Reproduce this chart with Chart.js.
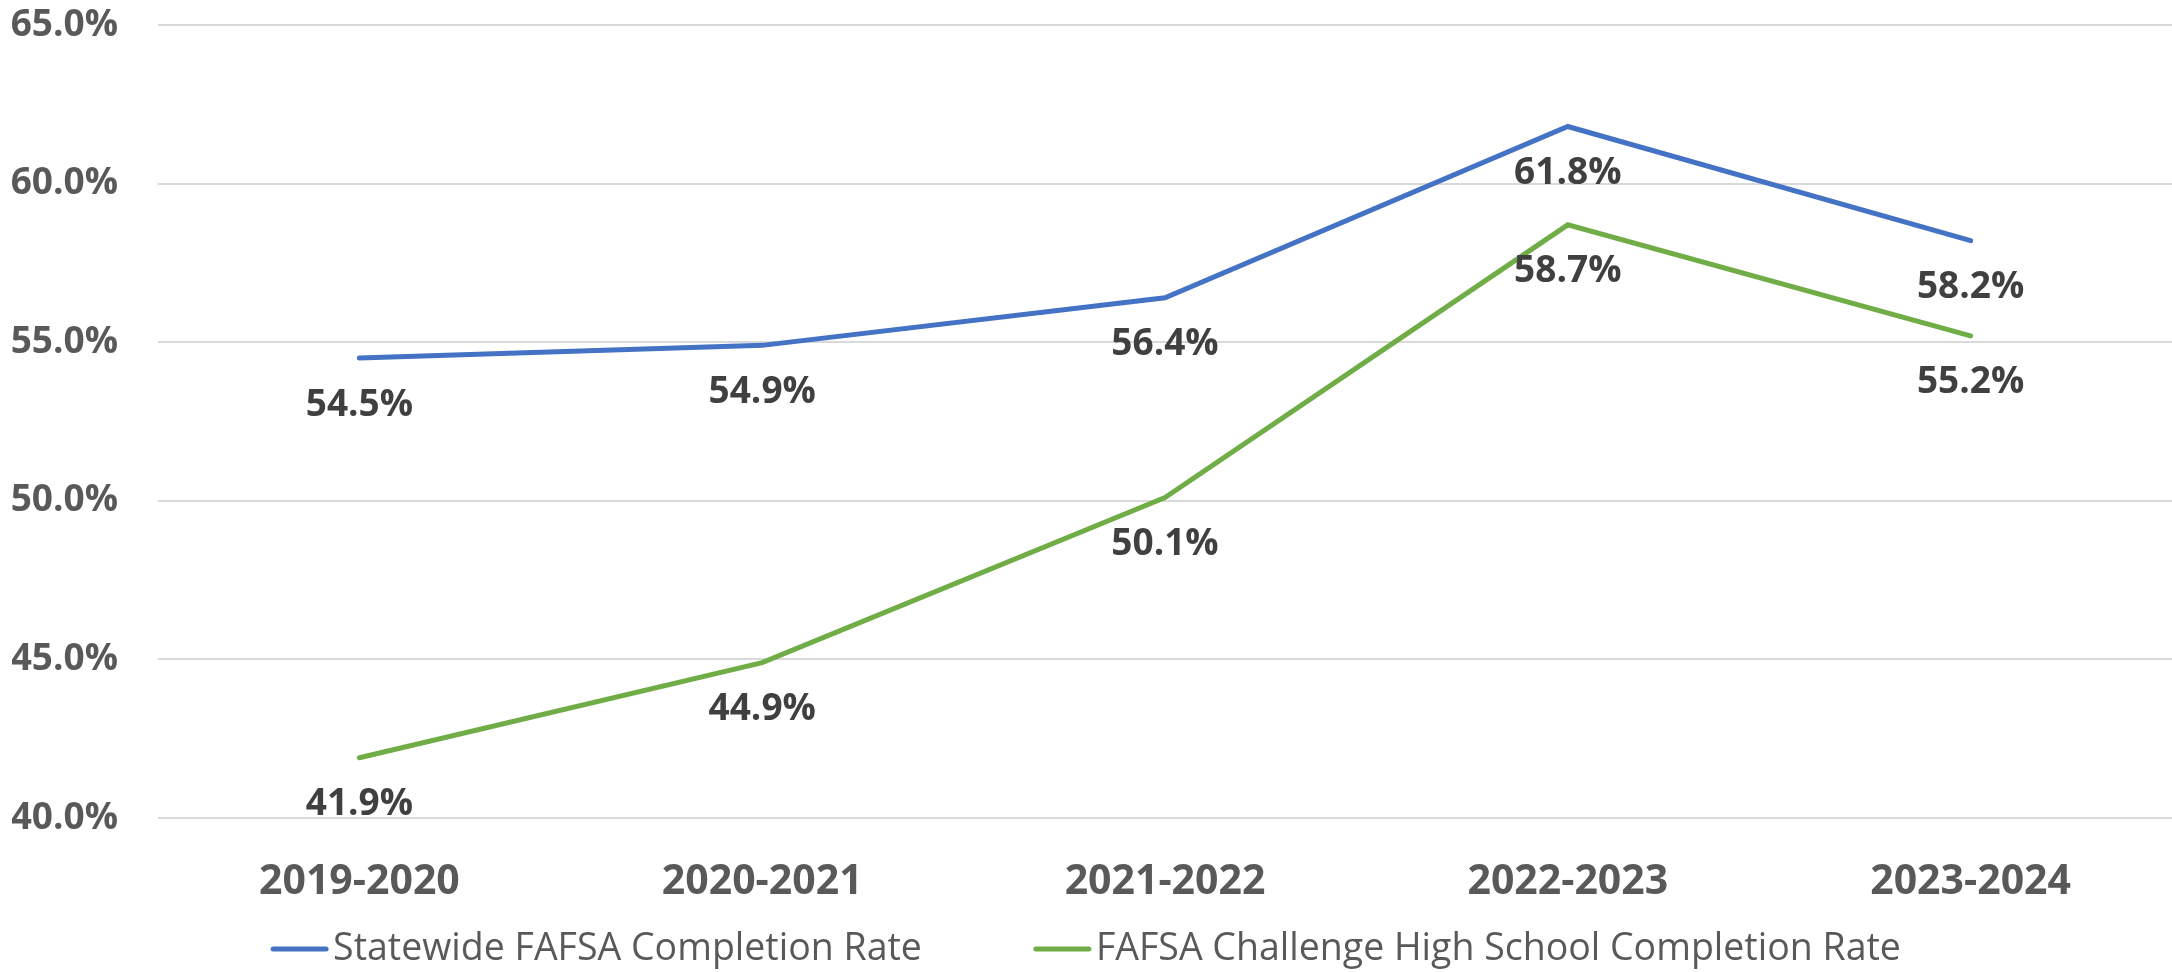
<!DOCTYPE html>
<html>
<head>
<meta charset="utf-8">
<title>FAFSA Completion Rate</title>
<script src="https://cdn.jsdelivr.net/npm/chart.js@4/dist/chart.umd.min.js"></script>
<style>
  html, body { margin: 0; padding: 0; background: #fff; }
  #wrap { width: 2172px; height: 972px; }
</style>
</head>
<body>
<div id="wrap"><canvas id="fafsaChart" width="2172" height="972"></canvas></div>
<script>
const years = ['2019-2020', '2020-2021', '2021-2022', '2022-2023', '2023-2024'];
const statewideRate = [54.5, 54.9, 56.4, 61.8, 58.2];
const challengeRate = [41.9, 44.9, 50.1, 58.7, 55.2];
const yTicks = [40, 45, 50, 55, 60, 65];

const FONT = '"Open Sans", "Noto Sans", sans-serif';

// value labels under each point, like Excel's "below" placement
const pointLabels = {
  id: 'pointLabels',
  afterDatasetsDraw(chart) {
    const ctx = chart.ctx;
    ctx.save();
    ctx.font = 'bold 37px ' + FONT;
    ctx.fillStyle = '#404040';
    ctx.textAlign = 'center';
    ctx.textBaseline = 'middle';
    chart.data.datasets.forEach((ds, i) => {
      chart.getDatasetMeta(i).data.forEach((pt, j) => {
        ctx.fillText(ds.data[j].toFixed(1) + '%', pt.x, pt.y + 47);
      });
    });
    ctx.restore();
  }
};

// legend drawn as a short line followed by the series name
const lineLegend = {
  id: 'lineLegend',
  afterDraw(chart) {
    const ctx = chart.ctx;
    const boxW = 57, gap = 5, spacing = 112;
    ctx.save();
    ctx.font = '37.5px ' + FONT;
    const items = chart.data.datasets.map(ds => ({
      text: ds.label, color: ds.borderColor, w: ctx.measureText(ds.label).width
    }));
    const total = items.reduce((s, it) => s + boxW + gap + it.w, 0) + spacing * (items.length - 1);
    let x = chart.width / 2 - total / 2;
    const y = chart.height - 23;
    ctx.textBaseline = 'middle';
    ctx.textAlign = 'left';
    items.forEach(it => {
      ctx.strokeStyle = it.color;
      ctx.lineWidth = 5;
      ctx.lineCap = 'round';
      ctx.beginPath();
      ctx.moveTo(x + 2, y);
      ctx.lineTo(x + boxW - 2, y);
      ctx.stroke();
      ctx.fillStyle = '#595959';
      ctx.fillText(it.text, x + boxW + gap, y);
      x += boxW + gap + it.w + spacing;
    });
    ctx.restore();
  }
};

const ctx = document.getElementById('fafsaChart').getContext('2d');
new Chart(ctx, {
  type: 'line',
  data: {
    labels: years,
    datasets: [{
      label: 'Statewide FAFSA Completion Rate',
      data: statewideRate,
      borderColor: '#4472C4',
      backgroundColor: '#4472C4',
      borderWidth: 5,
      borderCapStyle: 'round',
      pointRadius: 0,
      tension: 0
    }, {
      label: 'FAFSA Challenge High School Completion Rate',
      data: challengeRate,
      borderColor: '#70AD47',
      backgroundColor: '#70AD47',
      borderWidth: 5,
      borderCapStyle: 'round',
      pointRadius: 0,
      tension: 0
    }]
  },
  options: {
    responsive: false,
    animation: false,
    layout: { padding: { top: 25, left: 12, right: 0, bottom: 70 } },
    scales: {
      x: {
        offset: true,
        grid: { display: false, drawTicks: false },
        border: { display: false },
        ticks: {
          padding: 40,
          color: '#595959',
          maxRotation: 0,
          font: { family: FONT, size: 41, weight: 'bold' }
        },
        afterFit: function(scale) {
          scale.height = 84;
          scale.paddingLeft = 0;
          scale.paddingRight = 0;
        }
      },
      y: {
        min: 40,
        max: 65,
        afterBuildTicks: function(scale) {
          scale.ticks = yTicks.map(v => ({ value: v }));
        },
        grid: { color: '#D9D9D9', lineWidth: 2, drawTicks: false },
        border: { display: false },
        ticks: {
          padding: 40,
          color: '#595959',
          font: { family: FONT, size: 37, weight: 'bold' },
          callback: v => v.toFixed(1) + '%'
        },
        afterFit: function(scale) {
          scale.width = 146;
          scale.paddingTop = 0;
          scale.paddingBottom = 0;
        }
      }
    },
    plugins: {
      legend: { display: false },
      tooltip: { enabled: false }
    }
  },
  plugins: [pointLabels, lineLegend]
});
</script>
</body>
</html>
